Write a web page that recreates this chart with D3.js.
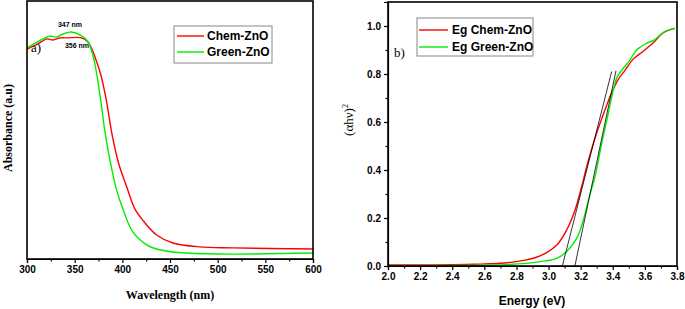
<!DOCTYPE html>
<html>
<head>
<meta charset="utf-8">
<script src="https://cdn.jsdelivr.net/npm/d3@7"></script>
<style>
  body { margin:0; background:#fff; }
  .tk text { font-family:"Liberation Sans", Arial, sans-serif; font-weight:bold; font-size:10px; fill:#000; }
  .tk line, .tk path { stroke:#000; stroke-width:1.2; }
</style>
</head>
<body>
<div id="wrapper"></div>
<script>
// ---- data, panel a (UV-vis absorbance)
const waveChem = [300, 311, 321, 327, 335, 342, 356, 363, 368, 373, 377, 383, 389, 396, 404.6, 413, 422, 436, 453, 481, 516, 600];
const absChem  = [0.814, 0.833, 0.853, 0.849, 0.857, 0.857, 0.858, 0.845, 0.815, 0.765, 0.72, 0.62, 0.487, 0.372, 0.28, 0.195, 0.148, 0.093, 0.062, 0.047, 0.043, 0.039];
const waveGreen = [300, 317, 324, 331, 338, 346, 356, 364, 369.5, 373, 377.3, 382, 387, 394, 401, 411, 426, 440, 468, 516, 600];
const absGreen  = [0.818, 0.853, 0.864, 0.860, 0.872, 0.880, 0.868, 0.842, 0.784, 0.72, 0.616, 0.487, 0.384, 0.267, 0.19, 0.105, 0.054, 0.035, 0.023, 0.019, 0.023];
const waveTicks = [300, 350, 400, 450, 500, 550, 600];

// ---- data, panel b (Tauc plot)
const eChem = [2.0, 2.53, 2.80, 2.947, 3.051, 3.113, 3.165, 3.206, 3.24, 3.30, 3.352, 3.393, 3.434, 3.476, 3.527, 3.59, 3.652, 3.715, 3.787];
const tChem = [0.004, 0.007, 0.018, 0.042, 0.0875, 0.15, 0.233, 0.33, 0.42, 0.555, 0.652, 0.722, 0.778, 0.815, 0.862, 0.895, 0.93, 0.972, 0.990];
const eGreen = [2.0, 2.635, 2.86, 2.947, 3.051, 3.113, 3.175, 3.217, 3.254, 3.289, 3.331, 3.372, 3.403, 3.428, 3.466, 3.507, 3.548, 3.61, 3.66, 3.72, 3.787];
const tGreen = [0.001, 0.004, 0.011, 0.018, 0.032, 0.060, 0.115, 0.192, 0.289, 0.372, 0.511, 0.636, 0.733, 0.789, 0.824, 0.858, 0.900, 0.928, 0.942, 0.976, 0.990];
// tangent lines (band gap extrapolation)
const fitChem = [[3.086, 0], [3.393, 0.81]];
const fitGreen = [[3.164, 0], [3.42, 0.814]];
const energyTicks = [2.0, 2.2, 2.4, 2.6, 2.8, 3.0, 3.2, 3.4, 3.6, 3.8];
const tauTicks = [0.0, 0.2, 0.4, 0.6, 0.8, 1.0];

const dimensions = { width:685, height:309 };

const svg = d3.select("#wrapper").append("svg")
  .attr("width", dimensions.width)
  .attr("height", dimensions.height);

// ================= panel a
const xA = d3.scaleLinear().domain([300, 600]).range([27, 313]);
const yA = d3.scaleLinear().domain([0, 1]).range([259, 1]);

const lineA = d3.line().x(d => xA(d[0])).y(d => yA(d[1])).curve(d3.curveCatmullRom);

svg.append("path").datum(d3.zip(waveChem, absChem))
  .attr("d", lineA).attr("fill", "none").attr("stroke", "#ff0000").attr("stroke-width", 1.4);
svg.append("path").datum(d3.zip(waveGreen, absGreen))
  .attr("d", lineA).attr("fill", "none").attr("stroke", "#00ee00").attr("stroke-width", 1.4);

// minor ticks
svg.append("g").attr("class", "tk").attr("transform", "translate(0,259)")
  .call(d3.axisBottom(xA).tickValues(d3.range(325, 600, 50)).tickSize(2.5).tickFormat(""))
  .select(".domain").remove();
svg.append("g").attr("class", "tk").attr("transform", "translate(0,259)")
  .call(d3.axisBottom(xA).tickValues(waveTicks).tickSize(4).tickPadding(3).tickFormat(d3.format("d")));

svg.append("rect").attr("x", 27).attr("y", 1).attr("width", 286).attr("height", 258)
  .attr("fill", "none").attr("stroke", "#000").attr("stroke-width", 1.6);

svg.append("text").attr("x", 170).attr("y", 299).attr("text-anchor", "middle")
  .style("font-family", "'Liberation Serif', serif").style("font-weight", "bold").style("font-size", "12px")
  .text("Wavelength (nm)");
svg.append("text").attr("transform", "translate(12,128) rotate(-90)").attr("text-anchor", "middle")
  .style("font-family", "'Liberation Serif', serif").style("font-weight", "bold").style("font-size", "12px")
  .text("Absorbance (a.u)");

// peak labels
svg.append("text").attr("x", 70).attr("y", 27).attr("text-anchor", "middle")
  .style("font-family", "'Liberation Sans', sans-serif").style("font-weight", "bold").style("font-size", "7px")
  .text("347 nm");
svg.append("text").attr("x", 77).attr("y", 48).attr("text-anchor", "middle")
  .style("font-family", "'Liberation Sans', sans-serif").style("font-weight", "bold").style("font-size", "7px")
  .text("356 nm");
svg.append("text").attr("x", 31).attr("y", 52)
  .style("font-family", "'Liberation Serif', serif").style("font-size", "13px")
  .text("a)");

// legend a
const legA = svg.append("g");
legA.append("rect").attr("x", 174).attr("y", 26).attr("width", 98).attr("height", 37)
  .attr("fill", "#fff").attr("stroke", "#888").attr("stroke-width", 1);
[["Chem-ZnO", "#ff0000", 36], ["Green-ZnO", "#00ee00", 52]].forEach(d => {
  legA.append("line").attr("x1", 177).attr("x2", 204).attr("y1", d[2]).attr("y2", d[2])
    .attr("stroke", d[1]).attr("stroke-width", 1.4);
  legA.append("text").attr("x", 207).attr("y", d[2] + 4)
    .style("font-family", "'Liberation Sans', sans-serif").style("font-weight", "bold").style("font-size", "12px")
    .text(d[0]);
});

// ================= panel b
const xB = d3.scaleLinear().domain([2.0, 3.8]).range([388, 677]);
const yB = d3.scaleLinear().domain([0, 1.1]).range([266, 2]);

const lineB = d3.line().x(d => xB(d[0])).y(d => yB(d[1])).curve(d3.curveCatmullRom);

svg.append("path").datum(d3.zip(eChem, tChem))
  .attr("d", lineB).attr("fill", "none").attr("stroke", "#ff0000").attr("stroke-width", 1.4);
svg.append("path").datum(d3.zip(eGreen, tGreen))
  .attr("d", lineB).attr("fill", "none").attr("stroke", "#00ee00").attr("stroke-width", 1.4);
[fitChem, fitGreen].forEach(f => {
  svg.append("path").datum(f).attr("d", d3.line().x(d => xB(d[0])).y(d => yB(d[1])))
    .attr("fill", "none").attr("stroke", "#000").attr("stroke-width", 0.8);
});

// minor ticks
svg.append("g").attr("class", "tk").attr("transform", "translate(0,266)")
  .call(d3.axisBottom(xB).tickValues(d3.range(2.1, 3.8, 0.2)).tickSize(2.5).tickFormat(""))
  .select(".domain").remove();
svg.append("g").attr("class", "tk").attr("transform", "translate(388,0)")
  .call(d3.axisLeft(yB).tickValues([0.1, 0.3, 0.5, 0.7, 0.9, 1.1]).tickSize(2.5).tickFormat(""))
  .select(".domain").remove();
svg.append("g").attr("class", "tk").attr("transform", "translate(0,266)")
  .call(d3.axisBottom(xB).tickValues(energyTicks).tickSize(4).tickPadding(3).tickFormat(d3.format(".1f")));
svg.append("g").attr("class", "tk").attr("transform", "translate(388,0)")
  .call(d3.axisLeft(yB).tickValues(tauTicks).tickSize(4).tickPadding(3).tickFormat(d3.format(".1f")));

svg.append("rect").attr("x", 388).attr("y", 2).attr("width", 289).attr("height", 264)
  .attr("fill", "none").attr("stroke", "#000").attr("stroke-width", 1.6);

svg.append("text").attr("x", 532).attr("y", 305).attr("text-anchor", "middle")
  .style("font-family", "'Liberation Sans', sans-serif").style("font-weight", "bold").style("font-size", "12px")
  .text("Energy (eV)");
const yLab = svg.append("text").attr("transform", "translate(353,120) rotate(-90)").attr("text-anchor", "middle")
  .style("font-family", "'Liberation Serif', serif").style("font-size", "13px");
yLab.append("tspan").text("(αhν)");
yLab.append("tspan").attr("dy", -5).style("font-size", "8px").text("2");

svg.append("text").attr("x", 394).attr("y", 57)
  .style("font-family", "'Liberation Serif', serif").style("font-size", "13px")
  .text("b)");

// legend b
const legB = svg.append("g");
legB.append("rect").attr("x", 417).attr("y", 18).attr("width", 116).attr("height", 38)
  .attr("fill", "#fff").attr("stroke", "#888").attr("stroke-width", 1);
[["Eg Chem-ZnO", "#ff0000", 30], ["Eg Green-ZnO", "#00ee00", 47]].forEach(d => {
  legB.append("line").attr("x1", 419).attr("x2", 448).attr("y1", d[2]).attr("y2", d[2])
    .attr("stroke", d[1]).attr("stroke-width", 1.4);
  legB.append("text").attr("x", 452).attr("y", d[2] + 4)
    .style("font-family", "'Liberation Sans', sans-serif").style("font-weight", "bold").style("font-size", "12px")
    .text(d[0]);
});
</script>
</body>
</html>
